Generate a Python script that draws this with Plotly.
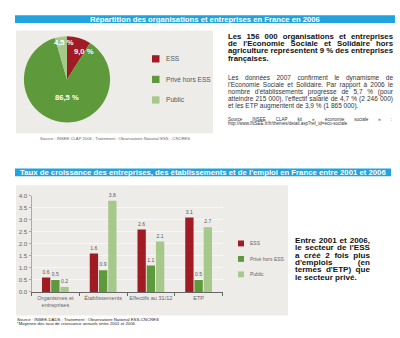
import plotly.graph_objects as go

W, H = 400, 338

# --- data -------------------------------------------------------------
# Répartition des organisations et entreprises en France en 2006 (%)
pie_labels = ["ESS", "Privé hors ESS", "Public"]
pie_values = [9.0, 86.5, 4.5]

# Taux de croissance annuels moyens 2001-2006 (%)
categories = ["Organismes et<br>entreprises", "Établissements", "Effectifs au 31/12", "ETP"]
series_names = ["ESS", "Privé hors ESS", "Public"]
ess_growth = [0.6, 1.6, 2.6, 3.1]
prive_growth = [0.5, 0.9, 1.1, 0.5]
public_growth = [0.2, 3.8, 2.1, 2.7]
y_tick_values = [0.0, 0.5, 1.0, 1.5, 2.0, 2.5, 3.0, 3.5, 4.0]

# --- styles -----------------------------------------------------------
COLORS = ["#A01B24", "#5E9A3B", "#A6C88A"]
BLUE = "#22A3DE"
PANEL = "#EEECE9"
SANS = "Liberation Sans, Arial, sans-serif"

# Advance widths (1/1000 em) of Liberation Sans, used to justify text blocks
_REG = {" ": 278, "%": 889, "'": 191, "(": 333, ")": 333, ",": 278, "-": 333, ".": 278, "/": 278,
        ":": 278, ";": 278, "?": 556, "=": 584, "_": 556, "«": 556, "»": 556,
        "A": 667, "B": 667, "C": 722, "D": 722, "E": 667, "F": 611, "G": 778, "H": 722, "I": 278,
        "J": 500, "K": 667, "L": 556, "M": 833, "N": 722, "O": 778, "P": 667, "Q": 778, "R": 722,
        "S": 667, "T": 611, "U": 722, "V": 667, "W": 944, "X": 667, "Y": 667, "Z": 611,
        "a": 556, "b": 556, "c": 500, "d": 556, "e": 556, "f": 278, "g": 556, "h": 556, "i": 222,
        "j": 222, "k": 500, "l": 222, "m": 833, "n": 556, "o": 556, "p": 556, "q": 556, "r": 333,
        "s": 500, "t": 278, "u": 556, "v": 500, "w": 722, "x": 500, "y": 500, "z": 500,
        "é": 556, "è": 556, "ê": 556, "à": 556, "ç": 500, "É": 667}
_BOLD = dict(_REG)
_BOLD.update({"'": 238, ":": 333, ";": 333, "?": 611, "A": 722, "B": 722, "L": 611, "J": 556,
              "K": 722, "b": 611, "c": 556, "d": 611, "f": 333, "g": 611, "h": 611, "i": 278,
              "j": 278, "k": 556, "l": 278, "m": 889, "n": 611, "o": 611, "p": 611, "q": 611,
              "r": 389, "s": 556, "t": 333, "u": 611, "v": 556, "w": 778, "x": 556, "y": 556,
              "ç": 556})
for _d in "0123456789":
    _REG[_d] = _BOLD[_d] = 556


def text_width(s, size, bold=False):
    table = _BOLD if bold else _REG
    return sum(table.get(ch, 556) for ch in s) * size / 1000.0


def px(x):
    return x / W


def py(y):
    return 1 - y / H


fig = go.Figure()

# Pie chart
fig.add_trace(go.Pie(
    labels=pie_labels,
    values=pie_values,
    sort=False,
    direction="clockwise",
    rotation=0,
    marker=dict(colors=COLORS, line=dict(width=0)),
    textinfo="none",
    hoverinfo="label+percent",
    showlegend=False,
    domain=dict(x=[px(23), px(111)], y=[py(121), py(33)]),
))

# Grouped bars
for name, vals, col in zip(series_names, [ess_growth, prive_growth, public_growth], COLORS):
    fig.add_trace(go.Bar(
        name=name,
        x=categories,
        y=vals,
        marker=dict(color=col, line=dict(width=0)),
        text=vals,
        texttemplate="%{y:.1f}",
        textposition="outside",
        textfont=dict(size=5, color="#555555", family=SANS),
        cliponaxis=False,
        showlegend=False,
        xaxis="x", yaxis="y",
    ))


def paragraph(x0, x1, y0, step, lines, size, color, bold=False):
    """Justified paragraph drawn word by word on a page-sized text layer:
    every line but the last spans x0..x1."""
    xs, ys, words_out = [], [], []
    for i, line in enumerate(lines):
        words = line.split(" ")
        widths = [text_width(w, size, bold) for w in words]
        if i < len(lines) - 1 and len(words) > 1:
            gap = (x1 - x0 - sum(widths)) / (len(words) - 1)
        else:
            gap = text_width(" ", size, bold)
        x = x0
        for w, wd in zip(words, widths):
            xs.append(x)
            ys.append(y0 + step * i)
            words_out.append(w)
            x += wd + gap
    fig.add_trace(go.Scatter(
        x=xs, y=ys, text=words_out, mode="text", textposition="middle right",
        textfont=dict(size=size, color=color, family=SANS, weight="bold" if bold else "normal"),
        hoverinfo="skip", showlegend=False, cliponaxis=False,
        xaxis="x2", yaxis="y2",
    ))


shapes = [
    # title banners
    dict(type="rect", xref="paper", yref="paper", x0=px(15), x1=px(395), y0=py(19.5), y1=py(11.5),
         fillcolor=BLUE, line=dict(width=0), layer="below"),
    dict(type="rect", xref="paper", yref="paper", x0=px(15), x1=px(391), y0=py(176), y1=py(168),
         fillcolor=BLUE, line=dict(width=0), layer="below"),
    # grey panels
    dict(type="rect", xref="paper", yref="paper", x0=px(16), x1=px(213), y0=py(132), y1=py(27),
         fillcolor=PANEL, line=dict(width=0), layer="below"),
    dict(type="rect", xref="paper", yref="paper", x0=px(16), x1=px(288), y0=py(318), y1=py(185),
         fillcolor=PANEL, line=dict(width=0), layer="below"),
]

annotations = []


def note(x, y, text, size, color="#222222", xanchor="left", bold=False):
    if bold:
        text = f"<b>{text}</b>"
    annotations.append(dict(
        x=px(x), y=py(y), xref="paper", yref="paper", text=text, showarrow=False,
        xanchor=xanchor, yanchor="middle", borderpad=0,
        font=dict(size=size, color=color, family=SANS),
    ))


# Banner titles
note(205, 15.5, "Répartition des organisations et entreprises en France en 2006", 7.7, "white",
     "center", True)
note(203, 172, "Taux de croissance des entreprises, des établissements et de l'emploi en France entre 2001 et 2006",
     7.75, "white", "center", True)

# Pie slice labels
pie_label_pos = {"ESS": (84, 49), "Privé hors ESS": (67, 95), "Public": (64, 39)}
for lab, v in zip(pie_labels, pie_values):
    x, y = pie_label_pos[lab]
    note(x, y, f"{v:.1f} %".replace(".", ","), 7.6, "white", "center", True)

# Pie legend
for i, (lab, col) in enumerate(zip(pie_labels, COLORS)):
    yc = 56 + 21 * i
    shapes.append(dict(type="rect", xref="paper", yref="paper", x0=px(152), x1=px(159.5),
                       y0=py(yc + 3.7), y1=py(yc - 3.7), fillcolor=col, line=dict(width=0)))
    note(165, yc, lab, 6.6, "#555555")

note(114.5, 137, "Source : INSEE CLAP 2006 ; Traitement : Observatoire National ESS - CNCRES", 4.2,
     "#666666", "center")

# Text block, top right
paragraph(228, 393, 33.3, 7.6,
          ["Les 156 000 organisations et entreprises",
           "de l'Economie Sociale et Solidaire hors",
           "agriculture représentent 9 % des entreprises",
           "françaises."],
          7.8, "#111111", bold=True)

paragraph(228, 393, 75.5, 7.35,
          ["Les données 2007 confirment le dynamisme de",
           "l'Economie Sociale et Solidaire. Par rapport à 2006 le",
           "nombre d'établissements progresse de 5,7 % (pour",
           "atteindre 215 000), l'effectif salarié de 4,7 % (2 246 000)",
           "et les ETP augmentent de 3,9 % (1 865 000)."],
          6.5, "#333333")

paragraph(228, 392, 118.3, 4.4,
          ["Source INSEE CLAP kit « économie sociale » :",
           "http://www.INSEE.fr/fr/themes/detail.asp?ref_id=eco-sociale"],
          4.5, "#333333")

# Bar legend
for i, (lab, col) in enumerate(zip(series_names, COLORS)):
    yc = 244.5 + 15.8 * i
    shapes.append(dict(type="rect", xref="paper", yref="paper", x0=px(238), x1=px(244),
                       y0=py(yc + 3), y1=py(yc - 3), fillcolor=col, line=dict(width=0)))
    note(249, yc, lab, 5, "#666666")

# Text block, bottom right
paragraph(295, 370, 242, 7.5,
          ["Entre 2001 et 2006,", "le secteur de l'ESS", "a créé 2 fois plus",
           "d'emplois (en", "termes d'ETP) que", "le secteur privé."],
          8.1, "#111111", bold=True)

note(16, 322, "Source : INSEE-DADS ; Traitement : Observatoire National ESS-CNCRES", 4.3, "#222222")
note(16, 326.5, "*Moyenne des taux de croissance annuels entre 2001 et 2006", 4.3, "#222222")

fig.update_layout(
    width=W, height=H,
    margin=dict(l=0, r=0, t=0, b=0),
    paper_bgcolor="white",
    plot_bgcolor="rgba(0,0,0,0)",
    barmode="group",
    bargap=0.42,
    bargroupgap=0.1,
    shapes=shapes,
    annotations=annotations,
    xaxis=dict(
        domain=[px(31.5), px(222.5)],
        showline=True, linecolor="#666666", linewidth=1,
        ticks="outside", tickson="boundaries", ticklen=3, tickcolor="#666666",
        tickangle=0,
        tickfont=dict(size=5.6, color="#666666", family=SANS),
        showgrid=False, fixedrange=True,
    ),
    yaxis=dict(
        domain=[py(294), py(196)],
        range=[0, 4],
        tickvals=y_tick_values,
        tickformat=".1f",
        showline=True, linecolor="#AAAAAA", linewidth=1,
        ticks="outside", ticklen=2, tickcolor="#AAAAAA",
        tickfont=dict(size=6.2, color="#666666", family=SANS),
        showgrid=True, gridcolor="#F8F7F5", gridwidth=1,
        zeroline=False, fixedrange=True,
    ),
    # page-sized layer, in pixels, for the justified text blocks
    xaxis2=dict(domain=[0, 1], range=[0, W], visible=False, fixedrange=True, anchor="y2"),
    yaxis2=dict(domain=[0, 1], range=[H, 0], visible=False, fixedrange=True, anchor="x2"),
    font=dict(family=SANS),
)

fig.write_html("out.html", config={"displayModeBar": False})
